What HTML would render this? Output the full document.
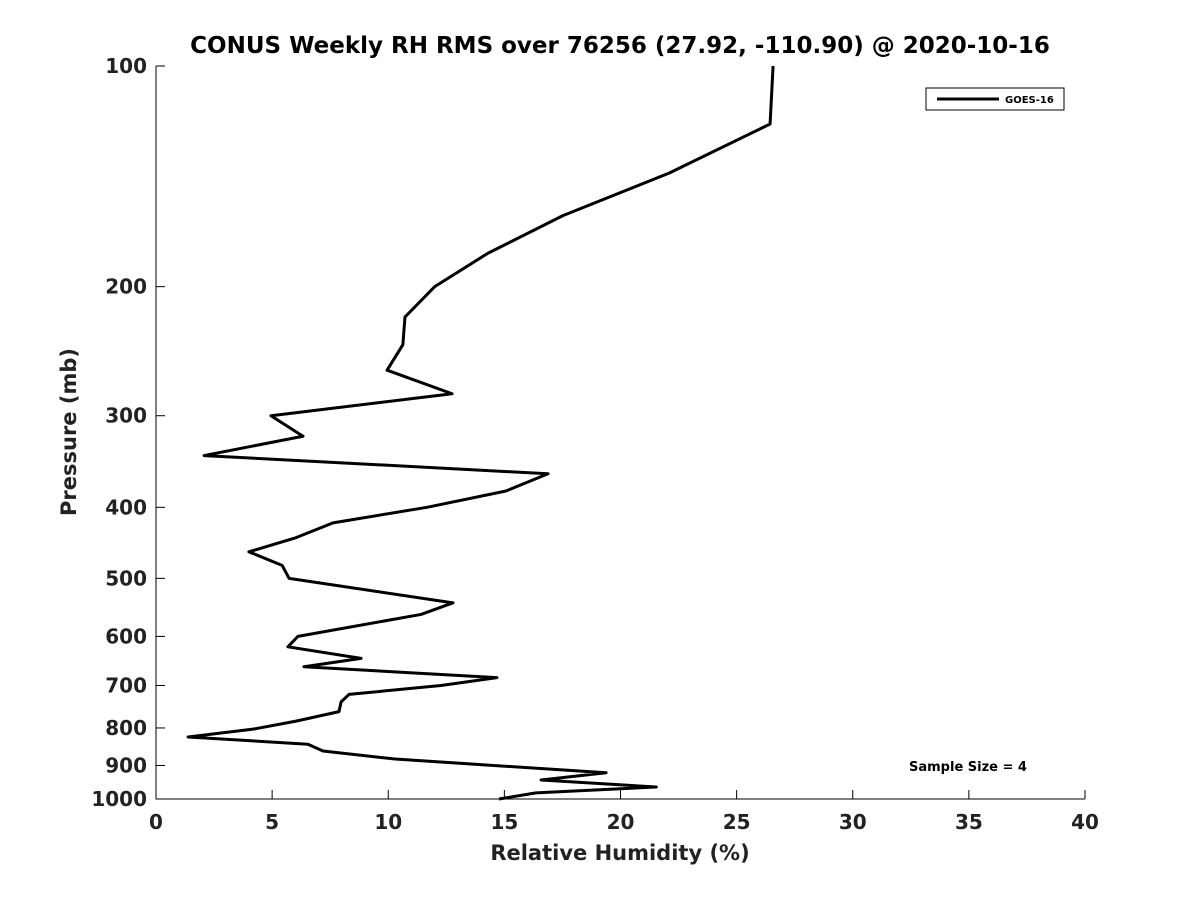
<!DOCTYPE html>
<html><head><meta charset="utf-8"><style>body{margin:0;background:#fff}svg text{font-family:"DejaVu Sans","Liberation Sans",sans-serif;font-weight:bold}</style></head>
<body>
<svg id="c" width="1200" height="900" xmlns="http://www.w3.org/2000/svg"></svg>
<script>
const rh=[26.57,26.44,22.09,17.52,14.3,12.0,10.72,10.63,9.95,12.75,4.95,6.33,2.07,16.88,15.07,11.67,7.62,6.03,4.0,5.43,5.73,12.79,11.41,6.11,5.68,8.83,6.37,14.68,12.27,8.31,7.97,7.88,6.03,4.18,1.38,6.54,7.19,10.29,19.38,16.58,21.54,16.36,14.77];
const pres=[100,120,140,160,180,200,220,240,260,280,300,320,340,360,380,400,420,440,460,480,500,540,560,600,620,643,660,683,700,720,737,760,783,803,823,842,860,882,921,942,963,981,1000];
const xTicks=[0,5,10,15,20,25,30,35,40];
const yTicks=[100,200,300,400,500,600,700,800,900,1000];
const NS="http://www.w3.org/2000/svg",svg=document.getElementById('c');
const L=156,R=1085,T=66,B=799;
const xs=v=>L+(v/40)*(R-L);
const ys=p=>T+(Math.log10(p)-2)*(B-T);
function mk(t,a,txt){const e=document.createElementNS(NS,t);for(const k in a)e.setAttribute(k,a[k]);if(txt!==undefined)e.textContent=txt;svg.appendChild(e);return e;}
let ax=mk('path',{d:`M${L},${T}V${B}H${R}`,fill:'none',stroke:'#000','stroke-width':1});


xTicks.forEach(v=>{const x=xs(v);
let t=mk('line',{x1:x,x2:x,y1:B,y2:B-9,stroke:'#000'});


let l=mk('text',{x:x,y:B+30,'text-anchor':'middle','font-size':20,fill:'#222'},v);

});
yTicks.forEach(p=>{const y=ys(p);
let t=mk('line',{x1:L,x2:L+9,y1:y,y2:y,stroke:'#000'});


let l=mk('text',{x:L-9,y:y+7,'text-anchor':'end','font-size':20,fill:'#222'},p);

});
let line=mk('polyline',{points:rh.map((v,i)=>xs(v)+','+ys(pres[i])).join(' '),fill:'none',stroke:'#000','stroke-width':3,'stroke-linejoin':'round'});


let ti=mk('text',{x:620,y:53,'text-anchor':'middle','font-size':23,fill:'#000'},'CONUS Weekly RH RMS over 76256 (27.92, -110.90) @ 2020-10-16');


let xl=mk('text',{x:620,y:860,'text-anchor':'middle','font-size':21,fill:'#222'},'Relative Humidity (%)');


let yl=mk('text',{x:0,y:0,'text-anchor':'middle','font-size':21,fill:'#222',transform:'translate(76,432) rotate(-90)'},'Pressure (mb)');


let lb=mk('rect',{x:926,y:88,width:138,height:22,fill:'#fff',stroke:'#000','stroke-width':1});


let ll=mk('line',{x1:937,x2:999,y1:99,y2:99,stroke:'#000','stroke-width':3});


let lt=mk('text',{x:1005,y:103,'font-size':10,fill:'#000'},'GOES-16');


let ss=mk('text',{x:968,y:771,'text-anchor':'middle','font-size':13,fill:'#000'},'Sample Size = 4');


</script>
</body></html>
